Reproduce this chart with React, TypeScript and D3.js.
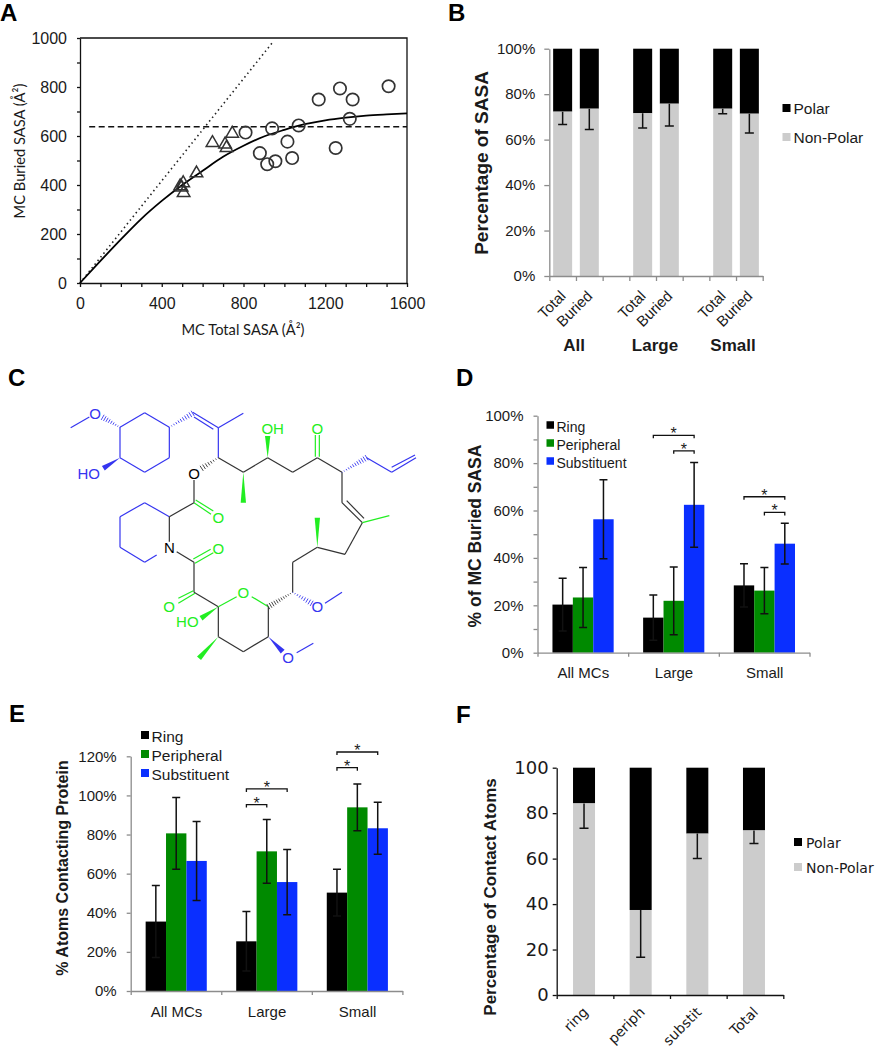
import * as d3 from "d3";
import { useEffect, useRef } from "react";

const ARIAL = "'Liberation Sans', Arial, sans-serif";
const CALIBRI = "Lato, sans-serif";
const VERDANA = "'DejaVu Sans', sans-serif";

const GREY_AXIS = "#8c8c8c";
const GREY_BAR = "#cccccc";
const TEXT = "#1a1a1a";
const SERIES_COLORS = ["#000000", "#008a00", "#0a2fff"];

// Panel A
const circleTotal = [810, 940, 1070, 1168, 1272, 1334, 1320, 1510, 1015, 1251, 1038, 880, 916, 956];
const circleBuried = [614, 631, 643, 749, 794, 749, 670, 803, 577, 551, 510, 530, 485, 497];
const triangleTotal = [745, 648, 717, 710, 570, 505, 490, 507, 497];
const triangleBuried = [610, 572, 552, 566, 448, 408, 395, 368, 390];
const fitTotal = [0, 100, 200, 300, 400, 500, 600, 700, 800, 900, 1000, 1100, 1200, 1300, 1400, 1500, 1600];
const fitBuried = [0, 90, 178, 262, 335, 400, 458, 515, 560, 598, 625, 648, 664, 675, 683, 688, 692];
const limitTotal = [0, 945];
const limitBuried = [0, 985];
const plateauTotal = [45, 1600];
const plateauBuried = [638, 638];

// Panel B
const sasaSlots = ["Total", "Buried", "", "Total", "Buried", "", "Total", "Buried"];
const sasaValues = [72.3, 73.6, null, 71.6, 75.8, null, 73.6, 71.4];
const sasaErrLow = [66.7, 64.5, null, 65.1, 66, null, 71.4, 62.9];
const sasaGroups = ["All", "Large", "Small"];

// Panel D
const groups = ["All MCs", "Large", "Small"];
const seriesNames = ["Ring", "Peripheral", "Substituent"];
const buriedRing = [20.3, 14.8, 28.4];
const buriedPeripheral = [23.3, 21.9, 26.2];
const buriedSubstituent = [56.3, 62.4, 46];
const buriedRingErr = [11.1, 9.5, 9.1];
const buriedPeripheralErr = [12.7, 14.3, 9.8];
const buriedSubstituentErr = [16.7, 17.9, 8.6];

// Panel E
const contactRing = [35.5, 25.4, 50.3];
const contactPeripheral = [80.6, 71.4, 93.9];
const contactSubstituent = [66.5, 55.7, 83.2];
const contactRingErr = [18.4, 15.2, 11.9];
const contactPeripheralErr = [18.3, 16.3, 12];
const contactSubstituentErr = [20.2, 16.7, 13.3];

// Panel F
const atomClasses = ["ring", "periph", "substit", "Total"];
const atomNonPolar = [84.3, 37.4, 71, 72.4];
const atomErrLow = [73.4, 16.6, 60.1, 66.6];

// significance brackets: group, first series, last series, level
const buriedBrackets: [number, number, number, number][] = [
  [1, 0, 2, 91.7],
  [1, 1, 2, 85.2],
  [2, 0, 2, 65.8],
  [2, 1, 2, 59.2],
];
const contactBrackets: [number, number, number, number][] = [
  [1, 0, 2, 103.3],
  [1, 0, 1, 95.3],
  [2, 0, 2, 122.2],
  [2, 0, 1, 114.2],
];

// Panel C, the structure, in its own drawing units
type Seg = [number, number, number, number];
const blueBonds: Seg[] = [
  [212, 233, 268, 201], [360, 232, 434, 188], [434, 188, 508, 232], [508, 232, 508, 323],
  [508, 323, 434, 367], [434, 367, 360, 323], [360, 323, 360, 232], [578, 187, 655, 233],
  [582, 201, 640, 238], [655, 233, 730, 190], [655, 233, 655, 323], [1100, 323, 1175, 367],
  [1175, 367, 1248, 323], [1175, 352, 1245, 315], [975, 760, 1026, 727], [890, 908, 940, 880],
  [470, 615, 434, 637], [434, 637, 360, 592], [360, 592, 360, 500], [360, 500, 434, 458],
  [434, 458, 508, 500],
];
const darkBonds: Seg[] = [
  [655, 323, 730, 367], [730, 367, 803, 323], [803, 323, 878, 367], [878, 367, 952, 323],
  [952, 323, 1026, 367], [1026, 367, 1026, 458], [1026, 458, 1087, 518], [1040, 452, 1092, 505],
  [1087, 518, 1035, 613], [1035, 613, 952, 592], [952, 592, 878, 637], [878, 637, 878, 727],
  [805, 770, 805, 860], [805, 860, 730, 905], [730, 905, 655, 860], [655, 860, 655, 770],
  [655, 770, 582, 727], [582, 727, 582, 637], [582, 637, 530, 605], [508, 575, 508, 500],
  [508, 500, 582, 458], [582, 458, 582, 390],
];
const greenBonds: Seg[] = [
  [946, 320, 946, 255], [958, 320, 958, 255], [1087, 518, 1168, 497], [805, 770, 755, 740],
  [710, 740, 655, 770], [535, 745, 580, 722], [535, 760, 585, 730], [585, 640, 640, 608],
  [580, 627, 632, 598], [582, 458, 633, 493], [587, 450, 640, 483],
];
const wedgeBonds: (Seg | string)[][] = [
  [[360, 323, 310, 355], "blue"],
  [[730, 367, 730, 458], "green"],
  [[803, 323, 803, 258], "green"],
  [[952, 592, 952, 503], "green"],
  [[655, 770, 603, 805], "green"],
  [[655, 860, 597, 925], "green"],
  [[805, 860, 848, 905], "blue"],
];
const hashBonds: (Seg | string)[][] = [
  [[360, 232, 308, 202], "blue"],
  [[508, 232, 578, 190], "blue"],
  [[655, 323, 605, 355], "dark"],
  [[1026, 367, 1100, 323], "blue"],
  [[878, 727, 805, 770], "dark"],
  [[878, 727, 935, 760], "blue"],
];
const atomLabels: [string, number, number, string][] = [
  ["O", 285, 190, "blue"], ["HO", 266, 370, "blue"], ["O", 582, 370, "dark"], ["OH", 818, 236, "green"],
  ["O", 952, 236, "green"], ["O", 655, 503, "green"], ["O", 655, 595, "green"], ["N", 508, 594, "dark"],
  ["O", 730, 727, "green"], ["O", 507, 770, "green"], ["HO", 562, 816, "green"], ["O", 952, 770, "blue"],
  ["O", 864, 924, "blue"],
];
const bondColors: Record<string, string> = { blue: "#3535f0", green: "#22ee22", dark: "#333333" };

type Sel = d3.Selection<SVGGElement, unknown, null, undefined>;

const styleAxis = (g: Sel, color: string, font: string, size: number) => {
  g.selectAll("path,line").attr("stroke", color).attr("stroke-width", 1.3);
  g.selectAll("text").attr("font-family", font).attr("font-size", size).attr("fill", TEXT);
};

const addText = (
  g: Sel,
  str: string,
  x: number,
  y: number,
  font: string,
  size: number,
  opts: { weight?: string; anchor?: string; rotate?: number; fill?: string } = {},
) =>
  g
    .append("text")
    .attr("transform", `translate(${x},${y}) rotate(${opts.rotate ?? 0})`)
    .attr("text-anchor", opts.anchor ?? "middle")
    .attr("font-family", font)
    .attr("font-size", size)
    .attr("font-weight", opts.weight ?? "normal")
    .attr("fill", opts.fill ?? TEXT)
    .text(str);

const errorBar = (g: Sel, x: number, y1: number, y2: number, cap: number) => {
  g.append("path")
    .attr("d", `M${x},${y1}V${y2}M${x - cap},${y2}H${x + cap}`)
    .attr("stroke", "#111")
    .attr("stroke-width", 1.5)
    .attr("fill", "none");
};

const drawScatter = (root: Sel) => {
  const x = d3.scaleLinear().domain([0, 1600]).range([80, 407]);
  const y = d3.scaleLinear().domain([0, 1000]).range([283, 38]);
  const g = root.append("g");

  g.append("path")
    .attr("d", `M${x(0)},${y(1000)}H${x(1600)}V${y(0)}`)
    .attr("fill", "none")
    .attr("stroke", "#111")
    .attr("stroke-width", 1.3);

  const xAxis = g.append("g").attr("transform", `translate(0,${y(0)})`).call(
    d3.axisBottom(x).tickValues(d3.range(0, 1601, 100)).tickSize(4).tickSizeOuter(0).tickPadding(11)
      .tickFormat((d) => ((d as number) % 400 === 0 ? String(d) : "")),
  );
  styleAxis(xAxis as Sel, "#111", ARIAL, 16);
  const yAxis = g.append("g").attr("transform", `translate(${x(0)},0)`).call(
    d3.axisLeft(y).tickValues(d3.range(0, 1001, 100)).tickSize(3).tickSizeOuter(0).tickPadding(10)
      .tickFormat((d) => ((d as number) % 200 === 0 ? String(d) : "")),
  );
  styleAxis(yAxis as Sel, "#111", ARIAL, 16);

  const trace = (xs: number[], ys: number[]) =>
    d3.line<number>().x((d) => x(d)).y((_, i) => y(ys[i]))(xs) as string;

  g.append("path").attr("d", trace(limitTotal, limitBuried)).attr("fill", "none")
    .attr("stroke", "#222").attr("stroke-width", 1.6).attr("stroke-dasharray", "1.5 3.2");
  g.append("path").attr("d", trace(plateauTotal, plateauBuried)).attr("fill", "none")
    .attr("stroke", "#111").attr("stroke-width", 1.4).attr("stroke-dasharray", "6 3.5");
  g.append("path")
    .attr("d", d3.line<number>().x((d) => x(d)).y((_, i) => y(fitBuried[i])).curve(d3.curveMonotoneX)(fitTotal) as string)
    .attr("fill", "none").attr("stroke", "#000").attr("stroke-width", 1.8);

  g.selectAll(".mc-large").data(circleTotal).join("circle")
    .attr("cx", (d) => x(d)).attr("cy", (_, i) => y(circleBuried[i])).attr("r", 6.2)
    .attr("fill", "none").attr("stroke", "#333").attr("stroke-width", 1.7);
  const tri = d3.symbol().type(d3.symbolTriangle).size(68)();
  g.selectAll(".mc-small").data(triangleTotal).join("path")
    .attr("d", tri)
    .attr("transform", (d, i) => `translate(${x(d)},${y(triangleBuried[i])})`)
    .attr("fill", "none").attr("stroke", "#333").attr("stroke-width", 1.5);

  addText(g, "MC Total SASA (Å²)", 243, 335, CALIBRI, 14.7);
  addText(g, "MC Buried SASA (Å²)", 25, 151, CALIBRI, 14.7, { rotate: -90 });
};

const drawPolarLegend = (g: Sel, x: number, y1: number, y2: number, gap: number, font: string, size: number) => {
  [["Polar", "#000", y1], ["Non-Polar", GREY_BAR, y2]].forEach(([label, color, y]) => {
    g.append("rect").attr("x", x).attr("y", (y as number) - 4).attr("width", 8).attr("height", 8).attr("fill", color as string);
    addText(g, label as string, x + gap, (y as number) + 6, font, size, { anchor: "start" });
  });
};

const drawSasa = (root: Sel) => {
  const x = d3.scaleLinear().domain([0, sasaSlots.length]).range([549.3, 762.7]);
  const y = d3.scaleLinear().domain([0, 100]).range([276, 48.7]);
  const g = root.append("g");

  sasaValues.forEach((v, i) => {
    if (v === null) return;
    const left = x(i + 0.5) - 9.5;
    g.append("rect").attr("x", left).attr("width", 19).attr("y", y(100)).attr("height", y(v) - y(100)).attr("fill", "#000");
    g.append("rect").attr("x", left).attr("width", 19).attr("y", y(v)).attr("height", y(0) - y(v)).attr("fill", GREY_BAR);
    errorBar(g, x(i + 0.5), y(v), y(sasaErrLow[i] as number), 4.5);
    addText(g, sasaSlots[i], x(i + 0.5) + 4, 297, ARIAL, 15, { anchor: "end", rotate: -45 });
  });

  const xAxis = g.append("g").attr("transform", `translate(0,${y(0)})`).call(
    d3.axisBottom(x).tickValues(d3.range(0, sasaSlots.length + 1)).tickSize(5).tickSizeOuter(0).tickFormat(() => ""),
  );
  styleAxis(xAxis as Sel, GREY_AXIS, ARIAL, 15);
  const yAxis = g.append("g").attr("transform", `translate(${x(0)},0)`).call(
    d3.axisLeft(y).tickValues(d3.range(0, 101, 20)).tickSize(5).tickSizeOuter(0).tickPadding(9).tickFormat((d) => `${d}%`),
  );
  styleAxis(yAxis as Sel, GREY_AXIS, ARIAL, 15);

  sasaGroups.forEach((name, i) => addText(g, name, [574, 655, 733][i], 351, ARIAL, 17, { weight: "bold" }));
  addText(g, "Percentage of SASA", 488, 163, ARIAL, 19, { weight: "bold", rotate: -90 });
  drawPolarLegend(g, 782.5, 108, 137, 11, ARIAL, 15.5);
};

const drawGrouped = (
  root: Sel,
  cfg: {
    xRange: [number, number];
    yRange: [number, number];
    yMax: number;
    minor: boolean;
    values: number[][];
    errs: number[][];
    brackets: [number, number, number, number][];
    title: string;
    titleX: number;
    titleY: number;
    titleSize: number;
    legendX: number;
    legendY: number[];
    legendSize: number;
    swatch: number;
    labelY: number;
  },
) => {
  const g = root.append("g");
  const y = d3.scaleLinear().domain([0, cfg.yMax]).range(cfg.yRange);
  const x0 = d3.scaleBand<string>().domain(groups).range(cfg.xRange);
  const step = x0.step();
  const x1 = d3.scaleBand<string>().domain(seriesNames).range([step * 0.165, step * 0.84]);
  const cx = (gi: number, si: number) => (x0(groups[gi]) as number) + (x1(seriesNames[si]) as number) + x1.bandwidth() / 2;

  cfg.values.forEach((vals, si) => {
    vals.forEach((v, gi) => {
      g.append("rect")
        .attr("x", cx(gi, si) - x1.bandwidth() / 2)
        .attr("width", x1.bandwidth())
        .attr("y", y(v))
        .attr("height", y(0) - y(v))
        .attr("fill", SERIES_COLORS[si]);
    });
  });
  cfg.values.forEach((vals, si) => {
    vals.forEach((v, gi) => {
      const e = cfg.errs[si][gi];
      g.append("path")
        .attr("d", `M${cx(gi, si) - 4},${y(v + e)}H${cx(gi, si) + 4}M${cx(gi, si)},${y(v + e)}V${y(v - e)}M${cx(gi, si) - 4},${y(v - e)}H${cx(gi, si) + 4}`)
        .attr("stroke", "#111").attr("stroke-width", 1.5).attr("fill", "none");
    });
  });

  cfg.brackets.forEach(([gi, a, b, level]) => {
    g.append("path")
      .attr("d", `M${cx(gi, a)},${y(level) + 3}V${y(level)}H${cx(gi, b)}V${y(level) + 3}`)
      .attr("fill", "none").attr("stroke", "#111").attr("stroke-width", 1.3);
    addText(g, "*", (cx(gi, a) + cx(gi, b)) / 2, y(level) + 4, ARIAL, 16);
  });

  const tickX = d3.scaleLinear().domain([0, groups.length]).range(cfg.xRange);
  const xAxis = g.append("g").attr("transform", `translate(0,${y(0)})`).call(
    d3.axisBottom(tickX).tickValues(d3.range(0, groups.length + 1)).tickSize(4).tickSizeOuter(0).tickFormat(() => ""),
  );
  styleAxis(xAxis as Sel, GREY_AXIS, ARIAL, 15);
  const yTicks = d3.range(0, cfg.yMax + 1, cfg.minor ? 10 : 20);
  const yAxis = g.append("g").attr("transform", `translate(${cfg.xRange[0]},0)`).call(
    d3.axisLeft(y).tickValues(yTicks).tickSize(4).tickSizeOuter(0).tickPadding(10)
      .tickFormat((d) => ((d as number) % 20 === 0 ? `${d}%` : "")),
  );
  styleAxis(yAxis as Sel, GREY_AXIS, ARIAL, 15);

  groups.forEach((name) => addText(g, name, (x0(name) as number) + step / 2 + 0.5, cfg.labelY, ARIAL, 15));
  addText(g, cfg.title, cfg.titleX, cfg.titleY, ARIAL, cfg.titleSize, { weight: "bold", rotate: -90 });

  seriesNames.forEach((name, i) => {
    g.append("rect").attr("x", cfg.legendX).attr("y", cfg.legendY[i] - cfg.swatch / 2)
      .attr("width", cfg.swatch).attr("height", cfg.swatch).attr("fill", SERIES_COLORS[i]);
    addText(g, name, cfg.legendX + cfg.swatch + 2.5, cfg.legendY[i] + cfg.legendSize * 0.36 + 1.5, ARIAL, cfg.legendSize, { anchor: "start" });
  });
};

const drawAtoms = (root: Sel) => {
  const x = d3.scaleLinear().domain([0, 3]).range([0, 1]);
  const y = d3.scaleLinear().domain([0, 3]).range([350, 351]);
  const g = root.append("g");

  const segs = (list: Seg[], color: string) =>
    list.forEach(([a, b, c, d]) => {
      g.append("line").attr("x1", x(a)).attr("y1", y(b)).attr("x2", x(c)).attr("y2", y(d))
        .attr("stroke", color).attr("stroke-width", 1.2);
    });
  segs(blueBonds, bondColors.blue);
  segs(darkBonds, bondColors.dark);
  segs(greenBonds, bondColors.green);

  wedgeBonds.forEach(([seg, color]) => {
    const [a, b, c, d] = seg as Seg;
    const len = Math.hypot(c - a, d - b);
    const nx = (-(d - b) / len) * 8;
    const ny = ((c - a) / len) * 8;
    g.append("path")
      .attr("d", `M${x(a)},${y(b)}L${x(c + nx)},${y(d + ny)}L${x(c - nx)},${y(d - ny)}Z`)
      .attr("fill", bondColors[color as string]);
  });

  hashBonds.forEach(([seg, color]) => {
    const [a, b, c, d] = seg as Seg;
    const len = Math.hypot(c - a, d - b);
    const n = Math.round(len / 8);
    d3.range(n + 1).forEach((k) => {
      const t = k / n;
      const px = a + (c - a) * t;
      const py = b + (d - b) * t;
      const w = 1 + 8 * t;
      const nx = (-(d - b) / len) * w;
      const ny = ((c - a) / len) * w;
      g.append("line").attr("x1", x(px + nx)).attr("y1", y(py + ny)).attr("x2", x(px - nx)).attr("y2", y(py - ny))
        .attr("stroke", bondColors[color as string]).attr("stroke-width", 0.9);
    });
  });

  atomLabels.forEach(([label, a, b, color]) => {
    addText(g, label, x(a), y(b) + 5.4, ARIAL, 15, { fill: color === "dark" ? "#000" : bondColors[color] });
  });
};

const drawAtomClasses = (root: Sel) => {
  const x = d3.scaleBand<string>().domain(atomClasses).range([556.7, 783.3]);
  const y = d3.scaleLinear().domain([0, 100]).range([995, 767.7]);
  const g = root.append("g");

  atomClasses.forEach((name, i) => {
    const c = (x(name) as number) + x.bandwidth() / 2 - 1;
    g.append("rect").attr("x", c - 11).attr("width", 22).attr("y", y(100)).attr("height", y(atomNonPolar[i]) - y(100)).attr("fill", "#000");
    g.append("rect").attr("x", c - 11).attr("width", 22).attr("y", y(atomNonPolar[i])).attr("height", y(0) - y(atomNonPolar[i])).attr("fill", GREY_BAR);
    errorBar(g, c, y(atomNonPolar[i]), y(atomErrLow[i]), 4.5);
    addText(g, name, c + 5, 1013, VERDANA, 14, { anchor: "end", rotate: -45 });
  });

  const tickX = d3.scaleLinear().domain([0, atomClasses.length]).range([556.7, 783.3]);
  const xAxis = g.append("g").attr("transform", `translate(0,${y(0)})`).call(
    d3.axisBottom(tickX).tickValues(d3.range(0, atomClasses.length + 1)).tickSize(4).tickSizeOuter(0).tickFormat(() => ""),
  );
  styleAxis(xAxis as Sel, "#111", VERDANA, 17);
  const yAxis = g.append("g").attr("transform", `translate(${tickX(0)},0)`).call(
    d3.axisLeft(y).tickValues(d3.range(0, 101, 20)).tickSize(4).tickSizeOuter(0).tickPadding(4),
  );
  styleAxis(yAxis as Sel, "#111", VERDANA, 18);

  addText(g, "Percentage of Contact Atoms", 496, 897, ARIAL, 17, { weight: "bold", rotate: -90 });
  drawPolarLegend(g, 794, 842, 867, 12, VERDANA, 14);
};

export default function App() {
  const svgRef = useRef<SVGSVGElement | null>(null);

  useEffect(() => {
    if (!svgRef.current) return;
    const svg = d3.select(svgRef.current);
    svg.selectAll("*").remove();
    const root = svg.append("g") as unknown as Sel;

    drawScatter(root);
    drawSasa(root);
    drawAtoms(root);
    drawGrouped(root, {
      xRange: [537.5, 809.5],
      yRange: [652.7, 415.7],
      yMax: 100,
      minor: true,
      values: [buriedRing, buriedPeripheral, buriedSubstituent],
      errs: [buriedRingErr, buriedPeripheralErr, buriedSubstituentErr],
      brackets: buriedBrackets,
      title: "% of MC Buried SASA",
      titleX: 481,
      titleY: 536,
      titleSize: 17.5,
      legendX: 546.5,
      legendY: [425, 443, 461],
      legendSize: 14,
      swatch: 7.5,
      labelY: 678,
    });
    drawGrouped(root, {
      xRange: [130.7, 402.4],
      yRange: [991, 756.3],
      yMax: 120,
      minor: false,
      values: [contactRing, contactPeripheral, contactSubstituent],
      errs: [contactRingErr, contactPeripheralErr, contactSubstituentErr],
      brackets: contactBrackets,
      title: "% Atoms Contacting Protein",
      titleX: 68,
      titleY: 868,
      titleSize: 16,
      legendX: 141,
      legendY: [735, 754, 773],
      legendSize: 15.5,
      swatch: 8,
      labelY: 1017,
    });
    drawAtomClasses(root);

    const panels: [string, number, number][] = [
      ["A", 0, 21], ["B", 448, 21], ["C", 8, 386], ["D", 456, 386], ["E", 9, 722], ["F", 456, 723],
    ];
    panels.forEach(([label, x, y]) => addText(root, label, x, y, ARIAL, 24, { weight: "bold", anchor: "start", fill: "#000" }));
  }, []);

  return (
    <svg
      ref={svgRef}
      width={875}
      height={1050}
      style={{ position: "absolute", left: 0, top: 0, background: "#fff" }}
    />
  );
}
